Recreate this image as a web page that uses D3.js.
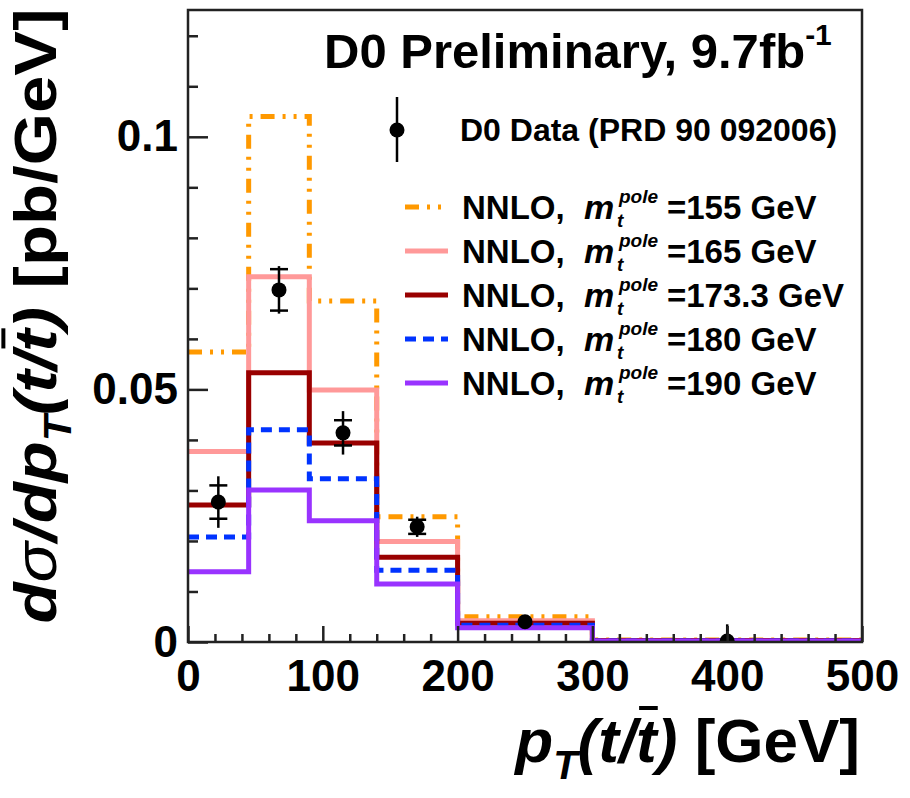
<!DOCTYPE html>
<html>
<head>
<meta charset="utf-8">
<script src="https://cdn.jsdelivr.net/npm/d3@7"></script>
<style>
  body { margin: 0; background: #fff; }
  text { font-family: 'Liberation Sans', Arial, Helvetica, sans-serif; font-weight: bold; fill: #000; }
</style>
</head>
<body>
<div id="chart"></div>
<script>
// bin edges of the pT(t) histogram [GeV]
const binEdges = [0, 45, 90, 140, 200, 300, 500]

// NNLO predictions for each top pole mass [pb/GeV]
const massLabels = ['155', '165', '173.3', '180', '190']
const nnlo155 = [0.0574, 0.1040, 0.0675, 0.0248, 0.0050, 0.0004]
const nnlo165 = [0.0377, 0.0723, 0.0499, 0.0199, 0.0042, 0.0003]
const nnlo173 = [0.0271, 0.0533, 0.0394, 0.0168, 0.0037, 0.0003]
const nnlo180 = [0.0208, 0.0420, 0.0323, 0.0142, 0.0033, 0.0002]
const nnlo190 = [0.0139, 0.0301, 0.0240, 0.0115, 0.0028, 0.0002]

// D0 data points
const dataX = [22.5, 67.5, 115, 170, 250, 400]
const dataY = [0.0277, 0.0697, 0.0414, 0.0228, 0.0040, 0.0002]
const errTotal = [0.0051, 0.0047, 0.0043, 0.0020, 0.0008, 0.0033]
const errStat = [0.0033, 0.0041, 0.0025, 0.0014, 0.0005, 0.0001]

const xTicks = [0, 100, 200, 300, 400, 500]
const yTicks = [0, 0.05, 0.1]
const yTickLabels = ['0', '0.05', '0.1']

const margin = { top: 10, right: 48, bottom: 156, left: 188 }
const width = 910 - margin.left - margin.right
const height = 798 - margin.top - margin.bottom

const svg = d3
  .select('#chart')
  .append('svg')
  .attr('width', 910)
  .attr('height', 798)

const g = svg.append('g')
  .attr('transform', 'translate(' + margin.left + ',' + margin.top + ')')

const x = d3.scaleLinear().domain([0, 500]).range([0, width])
const y = d3.scaleLinear().domain([0, 0.1251]).range([height, 0])

const colors = ['#ff9900', '#ff9999', '#990000', '#0033ff', '#9933ff']
const dashes = ['14,8,3,8,3,8', null, null, '11,7', null]
const allValues = [nnlo155, nnlo165, nnlo173, nnlo180, nnlo190]

const series = massLabels.map((m, i) => ({
  label: m,
  values: allValues[i],
  color: colors[i],
  dash: dashes[i]
}))

svg.append('defs').append('clipPath').attr('id', 'plot-clip')
  .append('rect').attr('width', width).attr('height', height)

// --- histograms
const stepLine = d3.line()
  .x(d => x(d[0]))
  .y(d => y(d[1]))
  .curve(d3.curveStepAfter)

const plot = g.append('g').attr('clip-path', 'url(#plot-clip)')

series.forEach(s => {
  const pts = s.values.map((v, i) => [binEdges[i], v])
  pts.push([binEdges[binEdges.length - 1], s.values[s.values.length - 1]])
  pts.push([binEdges[binEdges.length - 1], 0])
  plot.append('path')
    .attr('d', stepLine(pts))
    .attr('fill', 'none')
    .attr('stroke', s.color)
    .attr('stroke-width', 5)
    .attr('stroke-dasharray', s.dash)
})

// --- data points with error bars
const pts = plot.selectAll('.pt')
  .data(dataX.map((d, i) => ({ x: d, y: dataY[i], tot: errTotal[i], stat: errStat[i] })))
  .enter().append('g').attr('class', 'pt')

pts.append('line')
  .attr('x1', d => x(d.x)).attr('x2', d => x(d.x))
  .attr('y1', d => y(d.y + d.tot)).attr('y2', d => y(d.y - d.tot))
  .attr('stroke', '#000').attr('stroke-width', 2.5)

pts.append('line')
  .attr('x1', d => x(d.x) - 9).attr('x2', d => x(d.x) + 9)
  .attr('y1', d => y(d.y + d.stat)).attr('y2', d => y(d.y + d.stat))
  .attr('stroke', '#000').attr('stroke-width', 2.5)
  .attr('display', d => d.stat > 0.0008 ? null : 'none')

pts.append('line')
  .attr('x1', d => x(d.x) - 9).attr('x2', d => x(d.x) + 9)
  .attr('y1', d => y(d.y - d.stat)).attr('y2', d => y(d.y - d.stat))
  .attr('stroke', '#000').attr('stroke-width', 2.5)
  .attr('display', d => d.stat > 0.0008 ? null : 'none')

pts.append('circle')
  .attr('cx', d => x(d.x)).attr('cy', d => y(d.y))
  .attr('r', 7.5).attr('fill', '#000')

// --- axes
const xMinor = d3.range(0, 501, 20).filter(v => v % 100 !== 0)
const yMinor = d3.range(0, 0.1251, 0.01).filter(v => Math.abs(v * 20 - Math.round(v * 20)) > 1e-6)

g.append('g')
  .attr('transform', 'translate(0,' + height + ')')
  .call(d3.axisBottom(x).tickValues(xMinor).tickSize(-8).tickFormat(''))
  .call(a => a.select('.domain').remove())
  .call(a => a.selectAll('line').attr('stroke', '#222').attr('stroke-width', 2.5))

g.append('g')
  .attr('class', 'x-axis')
  .attr('transform', 'translate(0,' + height + ')')
  .call(d3.axisBottom(x).tickValues(xTicks).tickSize(-16).tickPadding(18).tickFormat(d3.format('d')))
  .call(a => a.select('.domain').remove())
  .call(a => a.selectAll('line').attr('stroke', '#222').attr('stroke-width', 2.5))
  .call(a => a.selectAll('text').attr('font-size', 44).attr('fill', '#000')
    .style('font-family', "'Liberation Sans', Arial, sans-serif").style('font-weight', 'bold'))

g.append('g')
  .call(d3.axisLeft(y).tickValues(yMinor).tickSize(-10).tickFormat(''))
  .call(a => a.select('.domain').remove())
  .call(a => a.selectAll('line').attr('stroke', '#222').attr('stroke-width', 2.5))

g.append('g')
  .attr('class', 'y-axis')
  .call(d3.axisLeft(y).tickValues(yTicks).tickSize(-20).tickPadding(10)
    .tickFormat((d, i) => yTickLabels[i]))
  .call(a => a.select('.domain').remove())
  .call(a => a.selectAll('line').attr('stroke', '#222').attr('stroke-width', 2.5))
  .call(a => a.selectAll('text').attr('font-size', 44).attr('fill', '#000')
    .style('font-family', "'Liberation Sans', Arial, sans-serif").style('font-weight', 'bold'))

// frame
g.append('rect')
  .attr('width', width).attr('height', height)
  .attr('fill', 'none').attr('stroke', '#222').attr('stroke-width', 2.5)

// --- title
const title = svg.append('text').attr('x', 324).attr('y', 68).attr('font-size', 49)
title.append('tspan').text('D0 Preliminary, 9.7fb')
title.append('tspan').attr('font-size', 30).attr('dy', -23).text('-1')

// --- legend
const leg = svg.append('g')

leg.append('line').attr('x1', 397).attr('x2', 397).attr('y1', 97).attr('y2', 162)
  .attr('stroke', '#000').attr('stroke-width', 2.5)
leg.append('circle').attr('cx', 397).attr('cy', 130).attr('r', 7.5).attr('fill', '#000')
leg.append('text').attr('x', 460).attr('y', 141).attr('font-size', 32).text('D0 Data (PRD 90 092006)')

series.forEach((s, i) => {
  const cy = 207 + i * 44
  leg.append('line')
    .attr('x1', 405).attr('x2', 448).attr('y1', cy).attr('y2', cy)
    .attr('stroke', s.color).attr('stroke-width', 5)
    .attr('stroke-dasharray', s.dash)
  leg.append('text').attr('x', 462).attr('y', cy + 12).attr('font-size', 33).text('NNLO,')
  const mx = 584
  leg.append('text').attr('x', mx).attr('y', cy + 12).attr('font-size', 34)
    .style('font-style', 'italic').text('m')
  leg.append('text').attr('x', mx + 35).attr('y', cy - 4).attr('font-size', 19)
    .style('font-style', 'italic').text('pole')
  leg.append('text').attr('x', mx + 33).attr('y', cy + 20).attr('font-size', 19)
    .style('font-style', 'italic').text('t')
  leg.append('text').attr('x', 667).attr('y', cy + 12).attr('font-size', 33)
    .text('=' + s.label + ' GeV')
})

// --- axis titles
const xt = svg.append('text').attr('x', 860).attr('y', 762)
  .attr('text-anchor', 'end').attr('font-size', 62)
xt.append('tspan').style('font-style', 'italic').text('p')
xt.append('tspan').style('font-style', 'italic').attr('font-size', 40).attr('dy', 17).text('T')
xt.append('tspan').style('font-style', 'italic').attr('dy', -17).text('(t/t)')
xt.append('tspan').text(' [GeV]')

const ytTransform = 'translate(56,316) rotate(-90) scale(1.12,1)'
const yt = svg.append('text')
  .attr('transform', ytTransform)
  .attr('text-anchor', 'middle').attr('font-size', 60)
yt.append('tspan').style('font-style', 'italic').text('d')
yt.append('tspan').style('font-style', 'italic').style('font-weight', 'normal').text('σ')
yt.append('tspan').style('font-style', 'italic').text('/dp')
yt.append('tspan').style('font-style', 'italic').attr('font-size', 38).attr('dy', 15).text('T')
yt.append('tspan').style('font-style', 'italic').attr('dy', -15).text('(t/t)')
yt.append('tspan').text(' [pb/GeV]')

// overline on the anti-top "t" in both titles
function overline(textSel, idx, tr) {
  const box = textSel.node().getExtentOfChar(idx)
  svg.append('line')
    .attr('transform', tr)
    .attr('x1', box.x + 3).attr('x2', box.x + box.width + 1)
    .attr('y1', box.y + 2).attr('y2', box.y + 2)
    .attr('stroke', '#000').attr('stroke-width', 4)
}
overline(xt, 5, null)
overline(yt, 9, ytTransform)
</script>
</body>
</html>
